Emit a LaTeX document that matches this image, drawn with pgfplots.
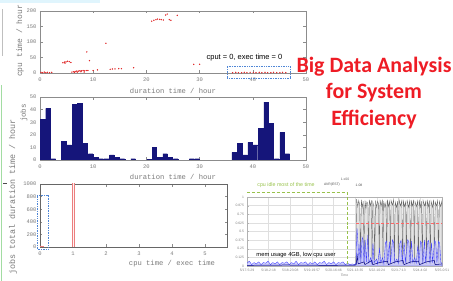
\documentclass[border=0pt]{standalone}
\usepackage{pgfplots}
\pgfplotsset{compat=1.18}
\usepackage{fontspec}
\setmainfont{Liberation Sans}
\newfontfamily\titlefont{Carlito}
\newfontfamily\gpfont{Liberation Mono}
\definecolor{axgray}{HTML}{8C8C8C}
\definecolor{tickgray}{HTML}{7A7A7A}
\definecolor{ptred}{HTML}{E02828}
\definecolor{barnavy}{HTML}{15157A}
\definecolor{titlered}{HTML}{EE1C25}
\definecolor{dotblue}{HTML}{4F86D6}
\definecolor{idlegreen}{HTML}{98C24C}
\pgfplotsset{gp/.style={scale only axis, anchor=south west,
  axis line style={axgray, line width=0.6pt},
  tick style={axgray, line width=0.4pt}, major tick length=2.5bp, tick align=inside,
  xtick pos=both, ytick pos=both, xticklabel pos=lower, yticklabel pos=left,
  ticklabel style={font=\gpfont\fontsize{5.5}{6}\selectfont, text=tickgray},
  /pgf/number format/assume math mode=true, /pgf/number format/1000 sep={}, scaled ticks=false,
  xticklabel style={yshift=-1bp}}}
\begin{document}
\begin{tikzpicture}
\path[use as bounding box] (0bp,0bp) rectangle (453bp,281bp);
% top scatter
\begin{axis}[gp, at={(40bp,208bp)}, width=266bp, height=62bp,
  xmin=0, xmax=50, ymin=0, ymax=200, xtick={0,10,...,50}, ytick={0,50,...,200}, clip=false]
\addplot[only marks, mark=*, mark size=0.45bp, ptred] coordinates {
(0.2,2)(0.5,1)(0.8,3)(1.1,1)(1.4,2)(1.8,1)(2.2,2)
(4.3,33)(4.6,35)(4.9,36)(5.2,38)(5.5,37)(5.8,34)(4.7,32)
(6.0,3)(6.3,4)(6.6,5)(6.9,6)(7.2,6)(7.5,7)(7.8,7)(8.1,8)(8.4,7)(8.7,8)(6.5,2)(7.0,3)(7.7,4)(8.3,3)(9.0,8)
(8.8,68)(9.3,40)(10.0,8)(10.8,10)
(12.4,96)(13.2,12)(13.6,13)(14.1,13)(14.8,14)(15.3,14)
(17.6,17)
(21.0,167)(21.4,170)(21.8,172)(22.1,174)(22.5,173)(22.8,172)(23.2,171)(23.6,187)(23.9,190)(24.3,172)(24.6,170)(25.8,186)
(28.9,28)(30.0,28)
(36.2,1)(36.8,2)(37.3,1)(37.9,1)(38.4,2)(38.9,1)(39.5,2)(40.1,1)(40.6,1)(41.2,2)(41.7,1)(42.3,2)(42.8,1)(43.4,1)(43.9,2)(44.5,1)(45.1,1)(45.6,2)(46.2,1)
};
\end{axis}
% middle histogram
\begin{axis}[gp, at={(40bp,121bp)}, width=266bp, height=63bp,
  xmin=0, xmax=50, ymin=0, ymax=50, xtick={0,10,...,50}, ytick={0,10,...,50}]
\addplot[ybar, bar width=0.85, fill=barnavy, draw=barnavy] coordinates {
(0.5,32)(1.5,41)(2.5,1)(4.5,15)(5.5,12)(6.5,44)(7.5,45)(8.5,13)(9.5,5)(10.5,2)(11.5,1)
(12.5,1)(13.5,4)(14.5,2)(15.5,1)(17.5,1)(20.5,0.6)(21.5,10)(22.5,2)(23.5,5)(24.5,2)(25.5,1)
(28.5,1)(29.5,1)(36.5,6)(37.5,13)(38.5,4)(39.5,14)(40.5,12)(41.5,25)(42.5,46)(43.5,29)(44.5,1)(45.5,22)(46.5,5)
};
\end{axis}
% bottom histogram
\begin{axis}[gp, at={(40bp,34bp)}, width=187bp, height=63bp,
  axis line style={black!60, line width=0.8pt},
  xmin=0, xmax=5.67, ymin=0, ymax=1000, xtick={0,1,...,5}, ytick={0,200,...,1000}]
\addplot[ybar, bar width=0.07, draw=ptred!60, fill=ptred!5, line width=0.4pt] coordinates {(1.0,1100)};
\addplot[ybar, bar width=0.07, draw=ptred!60, fill=ptred!5, line width=0.4pt] coordinates {(0.05,20)};
\end{axis}
% right time series screenshot
\begin{axis}[scale only axis, anchor=south west, at={(247bp,15bp)}, width=195bp, height=69bp,
  xmin=0, xmax=100, ymin=0, ymax=1,
  axis line style={gray!60, line width=0.4pt}, tick style={gray!60}, major tick length=1.5bp,
  grid=major, grid style={gray!25, line width=0.3pt},
  ytick={0,0.125,0.25,0.375,0.5,0.625,0.75,0.875,1},
  yticklabels={0,0.125,0.25,0.375,0.5,0.625,0.75,0.875,1},
  xtick={0,11.1,22.2,33.3,44.4,55.5,66.6,77.7,88.8,100},
  xticklabels={5/17-5:29,5/18-2:18,5/18-23:08,5/19-19:57,5/20-16:46,5/21-13:35,5/22-10:24,5/23-7:13,5/24-4:02,5/25-0:51},
  ticklabel style={font=\fontsize{3.4}{4}\selectfont, text=gray},
  yticklabel style={xshift=0.5bp}, xticklabel style={yshift=0.5bp},
  xlabel={Time}, xlabel style={font=\fontsize{3.4}{4}\selectfont, text=gray, yshift=4.5bp}]
\addplot[draw=black!60, line width=0.35pt, fill=gray!22] coordinates {
(0,0.005)(55.8,0.005)(56.2,0.97)(56.8,0.86)(57.3,0.95)(57.8,0.88)(58.2,0.03)(58.6,0.96)(59.1,0.85)(59.6,0.94)(60.1,0.02)(60.5,0.95)(61.0,0.84)(61.5,0.93)(62.0,0.90)(62.3,0.04)(62.7,0.96)(63.3,0.87)(63.8,0.95)(64.1,0.02)(64.5,0.93)(65.1,0.86)(65.5,0.03)(65.9,0.95)(66.5,0.85)(67.0,0.94)(67.5,0.89)(67.8,0.03)(68.2,0.96)(68.8,0.87)(69.4,0.95)(69.7,0.02)(70.1,0.94)(70.7,0.85)(71.3,0.92)(71.6,0.03)(72.0,0.96)(72.6,0.86)(73.2,0.94)(73.5,0.02)(73.9,0.95)(74.6,0.88)(75.2,0.96)(75.6,0.03)(76.0,0.93)(76.7,0.85)(77.3,0.94)(77.6,0.02)(78.0,0.96)(78.7,0.87)(79.4,0.95)(79.8,0.03)(80.2,0.94)(80.8,0.86)(81.4,0.93)(81.7,0.02)(82.1,0.96)(82.8,0.85)(83.5,0.95)(83.9,0.03)(84.3,0.94)(84.9,0.87)(85.5,0.96)(85.8,0.02)(86.2,0.93)(86.9,0.86)(87.5,0.94)(87.9,0.03)(88.3,0.96)(88.9,0.85)(89.5,0.94)(89.9,0.02)(90.3,0.95)(91.0,0.87)(91.6,0.93)(92.0,0.03)(92.4,0.96)(93.0,0.86)(93.6,0.95)(94.0,0.02)(94.4,0.94)(95.1,0.85)(95.7,0.96)(96.1,0.03)(96.5,0.93)(97.2,0.87)(97.8,0.95)(98.2,0.02)(98.6,0.94)(99.3,0.86)(100,0.95)(100,0)(0,0)
};
\addplot[draw=blue!75, line width=0.35pt, fill=blue!25, fill opacity=0.7] coordinates {
(0,0.04)(1.2,0.07)(2.4,0.02)(3.6,0.05)(4.8,0.03)(6.0,0.06)(7.2,0.02)(8.4,0.05)(9.6,0.04)(10.8,0.07)(12.0,0.02)(13.2,0.05)(14.4,0.03)(15.6,0.06)(16.8,0.02)(18.0,0.05)(19.2,0.04)(20.4,0.06)(21.6,0.02)(22.8,0.05)(24.0,0.03)(25.2,0.07)(26.4,0.02)(27.6,0.05)(28.8,0.04)(30.0,0.06)(31.2,0.02)(32.4,0.05)(33.6,0.03)(34.8,0.06)(36.0,0.02)(37.2,0.05)(38.4,0.04)(39.6,0.07)(40.8,0.02)(42.0,0.05)(43.2,0.03)(44.4,0.06)(45.6,0.02)(46.8,0.05)(48.0,0.04)(49.2,0.06)(50.4,0.02)(51.6,0.04)(52.8,0.02)(54.0,0.03)(55.2,0.02)
(56.0,0.05)(56.4,0.55)(57.0,0.30)(57.4,0.08)(58.0,0.35)(58.4,0.05)(59.0,0.42)(59.5,0.38)(60.0,0.04)(60.6,0.38)(61.2,0.06)(62.0,0.45)(62.5,0.05)(63.4,0.12)(64.0,0.04)(64.6,0.33)(65.2,0.05)(66.5,0.10)(67.0,0.03)(68.0,0.25)(68.6,0.05)(69.5,0.12)(70.2,0.03)(71.0,0.34)(71.6,0.36)(72.2,0.05)(73.0,0.35)(73.6,0.04)(74.6,0.38)(75.2,0.34)(75.8,0.05)(76.8,0.10)(77.6,0.04)(78.4,0.33)(79.0,0.37)(79.6,0.05)(80.6,0.34)(81.2,0.05)(82.4,0.38)(83.0,0.35)(83.6,0.04)(84.4,0.36)(85.0,0.05)(86.0,0.12)(86.8,0.04)(87.6,0.30)(88.2,0.05)(89.0,0.36)(89.6,0.33)(90.2,0.04)(91.0,0.38)(91.6,0.05)(92.6,0.35)(93.2,0.37)(93.8,0.04)(94.6,0.34)(95.2,0.05)(96.2,0.37)(96.8,0.34)(97.4,0.05)(98.2,0.36)(98.8,0.33)(99.4,0.05)(100,0.04)(100,0)(0,0)
};
\addplot[draw=blue!50!black, line width=0.5pt] coordinates {
(0,0.01)(20,0.015)(40,0.01)(55,0.012)(56,0.02)(56.5,0.15)(57,0.03)(60,0.06)(60.5,0.02)(64,0.08)(64.5,0.02)(68,0.05)(72,0.07)(72.5,0.02)(76,0.06)(80,0.08)(80.5,0.02)(84,0.06)(88,0.07)(88.5,0.02)(92,0.06)(96,0.08)(96.5,0.02)(100,0.03)
};
\addplot[draw=red!60, line width=0.3pt, densely dashed] coordinates {(56,0.625)(100,0.625)};
\end{axis}
\begin{scope}[x=1bp,y=1bp]
% slide decorations
\fill[cyan!12] (0,278) rectangle (100,281);
\draw[green!45!gray!50, line width=0.6pt] (0.8,0) -- (0.8,196);
\draw[gray!50, line width=0.5pt] (2,225) -- (2,272);
\draw[black!70, line width=0.6pt] (3,98) -- (7,98);
% gnuplot labels
\node[rotate=90, font=\gpfont\fontsize{8}{9}\selectfont, text=tickgray] at (20,240) {cpu time / hour};
\node[font=\gpfont\fontsize{7.2}{8}\selectfont, text=tickgray] at (173,190) {duration time / hour};
\node[rotate=90, font=\gpfont\fontsize{7.5}{8}\selectfont, text=tickgray] at (24,168) {jobs};
\node[font=\gpfont\fontsize{7.2}{8}\selectfont, text=tickgray] at (173,104) {duration time / hour};
\node[rotate=90, font=\gpfont\fontsize{8.4}{9}\selectfont, text=tickgray] at (13,84) {jobs total duration time / hour};
\node[font=\gpfont\fontsize{7.2}{8}\selectfont, text=tickgray] at (172,17) {cpu time / exec time};
% annotations
\draw[dotblue, densely dotted, line width=0.7pt] (227,203) rectangle (290,215);
\node[font=\fontsize{7.5}{8}\selectfont, anchor=base] at (244.5,221.5) {cput = 0, exec time = 0};
\draw[dotblue, densely dotted, line width=0.7pt] (37,32) rectangle (48,86);
% right chart annotations
\draw[idlegreen, densely dashed, line width=0.6pt] (247,89) -- (347,89) -- (347,15);
\node[font=\fontsize{5.3}{6}\selectfont, text=idlegreen] at (286,96) {cpu idle most of the time};
\node[font=\fontsize{3.4}{4}\selectfont, text=black!70] at (332,96) {AVR(EST)};
\node[font=\fontsize{3.4}{4}\selectfont, text=black!70] at (359,96) {1.08};
\node[font=\fontsize{3.4}{4}\selectfont, text=black!60] at (345,102) {1.x00};
\node[font=\fontsize{5.8}{6}\selectfont, anchor=base] at (296,25) {mem usage 4GB, low cpu user};
% title
\node[font=\titlefont\bfseries\fontsize{22}{26}\selectfont, text=titlered, anchor=base] at (374,209) {Big Data Analysis};
\node[font=\titlefont\bfseries\fontsize{22}{26}\selectfont, text=titlered, anchor=base] at (374,182.5) {for System};
\node[font=\titlefont\bfseries\fontsize{22}{26}\selectfont, text=titlered, anchor=base] at (374,156) {Efficiency};
\end{scope}
\end{tikzpicture}
\end{document}
